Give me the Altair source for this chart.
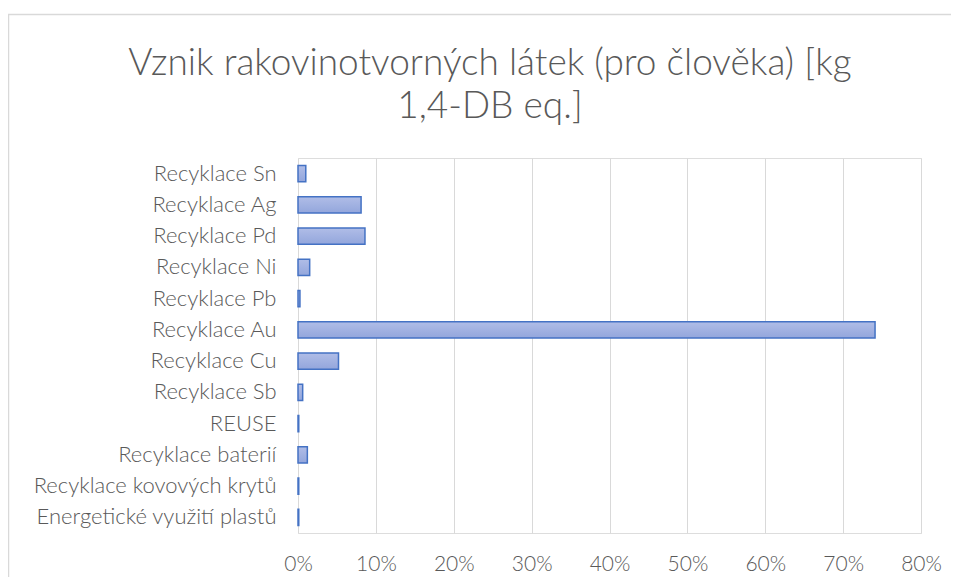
import altair as alt
import pandas as pd

categories = [
    "Recyklace Sn", "Recyklace Ag", "Recyklace Pd", "Recyklace Ni",
    "Recyklace Pb", "Recyklace Au", "Recyklace Cu", "Recyklace Sb",
    "REUSE", "Recyklace baterií", "Recyklace kovových krytů",
    "Energetické využití plastů",
]
shares = [0.010, 0.081, 0.086, 0.015, 0.0025, 0.741, 0.052, 0.006,
          0.001, 0.012, 0.001, 0.001]
tick_values = [0, 0.1, 0.2, 0.3, 0.4, 0.5, 0.6, 0.7, 0.8]
title_lines = ["Vznik rakovinotvorných látek (pro člověka) [kg", "1,4-DB eq.]"]

FONT = "Lato"
GREY = "#595959"

df = pd.DataFrame({"kategorie": categories, "podil": shares})

bars = alt.Chart(df).mark_bar(
    fill=alt.Gradient(
        gradient="linear", x1=0, y1=0, x2=0, y2=1,
        stops=[alt.GradientStop(offset=0, color="#B0BDE7"),
               alt.GradientStop(offset=1, color="#93A6DC")],
    ),
    stroke="#4472C4", strokeWidth=1.5,
).encode(
    y=alt.Y("kategorie:N", sort=categories, title=None,
            scale=alt.Scale(paddingInner=0.48, paddingOuter=0.24),
            axis=alt.Axis(labelFont=FONT, labelFontSize=22, labelColor=GREY,
                          labelFontWeight=300,
                          ticks=False, domain=False, labelPadding=22,
                          labelLimit=300)),
    x=alt.X("podil:Q", title=None,
            scale=alt.Scale(domain=[0, 0.8], nice=False),
            axis=alt.Axis(values=tick_values, format=".0%", labelFont=FONT,
                          labelFontSize=21, labelColor=GREY, labelFontWeight=300,
                          ticks=False, labelFlush=False,
                          domain=False, grid=True, gridColor="#D9D9D9",
                          labelPadding=20)),
)

tdf = pd.DataFrame({"line": title_lines, "y": [-83, -40]})
title = alt.Chart(tdf).mark_text(
    font=FONT, fontSize=37, fontWeight=300, color=GREY,
    align="center", baseline="alphabetic",
).encode(
    text="line:N",
    x=alt.value(192),
    y=alt.Y("y:Q", scale=None),
)

frame = pd.DataFrame({"a": [1]})
border_top = alt.Chart(frame).mark_rule(
    stroke="#D9D9D9", strokeWidth=1.5,
).encode(
    x=alt.value(-290), x2=alt.value(660), y=alt.value(-143.5),
)
border_left = alt.Chart(frame).mark_rule(
    stroke="#D9D9D9", strokeWidth=1.5,
).encode(
    x=alt.value(-289.5), y=alt.value(-144), y2=alt.value(420),
)

chart = alt.layer(border_top, border_left, bars, title).properties(
    width=623, height=375,
    padding={"left": 290, "top": 150, "right": 30, "bottom": 44},
    autosize=alt.AutoSizeParams(type="none"),
).configure_view(stroke=None).configure(background="white")

chart.save("out.html", embed_options={"renderer": "svg", "actions": False})
